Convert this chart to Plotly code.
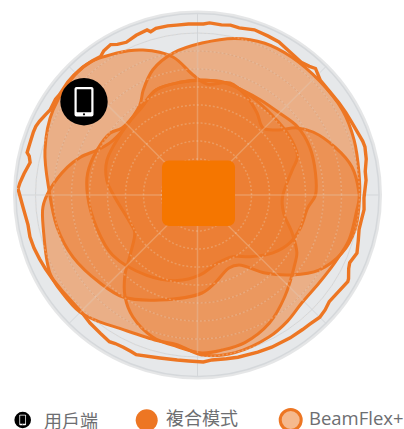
import plotly.graph_objects as go

W, H = 404, 429
CX, CY, R = 197.5, 195, 181.5

# Radiation-pattern values: radius and angle (degrees) of each lobe outline
lobe_p_r = [159.0,167.6,171.7,163.2,154.9,140.2,120.1,111.4,116.6,109.8,101.3,93.7,102.7,120.0,131.6,145.6,157.0,161.5,161.9,161.3,155.7,142.8,123.8,103.2,81.4,79.5,89.7,98.1,111.5,126.3,131.3,139.1,144.1,148.6]
lobe_p_t = [163.6,149.5,131.8,119.5,110.6,100.1,92.1,85.1,73.8,63.2,54.0,45.6,39.3,34.0,28.6,19.2,10.3,0.7,355.8,347.5,338.1,328.3,319.8,310.9,300.7,293.3,281.2,272.6,250.3,233.9,222.1,206.5,192.8,178.1]
lobe_q_r = [133,148,155,158,167,167,166,161,155,151,151,160,162,159,155,150,150,153,158,160,162,163,166,168,167,167,166,161,152,144,133,118,107,99,102,110,123]
lobe_q_t = [167.9,178.1,184.4,192.8,207.9,215.9,224.9,231.4,238.8,254.4,262.2,271.6,283.4,296.7,305.4,314.1,324.1,333.7,343.5,354.6,359.3,7.8,19.4,30.5,43.4,55.6,66.1,76.6,88.3,99.8,109.6,117.4,122.6,138.9,149.3,155.9,162.1]
lobe_x_r = [112,110,107,101,104,113,114,115,116,114,114,116,121,122,120,118,111,108,104,95,81,71,71,80,88,95,104,106,110]
lobe_x_t = [168.6,155.9,144.7,138.4,123.5,111.6,98.8,85.8,77.3,66.6,56.7,44.8,34.3,23.1,10.6,0.0,353.3,342.2,332.6,322.5,310.3,299.8,286.0,271.8,256.6,237.7,215.4,198.2,180.0]
lobe_c_r = [115,115,112,109,109,107,98,85,88,102,115,119,134,147,155,157,158,153,149,138,125,108,90,73,73,84,92,97,99,104,113,114]
lobe_c_t = [87.8,72.6,60.9,41.5,30.2,20.9,14.8,358.6,348.2,338.1,329.8,325.1,310.6,299.2,287.8,279.0,271.6,262.3,252.6,242.1,234.6,227.8,221.6,210.6,201.8,180.0,170.6,158.9,136.8,122.2,111.6,98.8]
envelope_r = [179.6,177.9,174.8,170.5,172.7,175.6,175.4,175.8,175.6,174.4,171.8,170.2,171.3,170.6,172.0,172.2,171.7,170.5,169.0,172.0,173.7,170.6,168.5,171.1,172.6,169.8,171.8,171.7,171.1,171.2,171.1,172.5,171.8,173.1,172.3,174.7,173.9,173.4,170.3,168.4,170.5,173.0,168.0,167.8,168.8,169.6,170.5,172.1,173.8,174.2,172.5,169.4,169.2,166.5,167.2,165.7,165.2,167.2,169.7,166.6,168.2,172.7,173.5,170.7,169.5,171.7,172.9,171.2,170.7,170.3,169.3,168.3,167.2,166.3,165.6,167.1,166.2,166.3,167.3,171.1,170.0,169.3,169.8,171.1,169.0,167.2,165.1,164.8,165.8,167.6,169.0,170.4,171.9,172.7,172.1,174.9]
envelope_t = [178,176,173,169,167,166,163,159,157,155,152,150,146,144,139,136,132,128,125,123,120,118,115,111,107,106,104,100,97,93,88,86,82,79,76,71,66,62,57,52,49,47,43,38,33,29,25,21,18,16,12,8,5,359,355,351,348,344,340,336,334,331,330,325,321,318,315,311,308,303,296,291,284,280,275,272,267,263,257,249,247,244,241,239,235,230,226,221,216,210,206,202,198,194,190,184]
radial_ticks = [36,54,72,90,108,126,144,162]
angular_ticks = [0,45,90,135,180,225,270,315]
spoke_reach = [161,165,152,160,154,166,158,150]   # how far each spoke runs over the coloured area
legend_labels = ["用戶端", "複合模式", "BeamFlex+"]

ORANGE = "#ed7623"
GRID_ON_FILL = "rgba(238,226,214,0.28)"
fig = go.Figure()
fig.add_trace(go.Scatterpolar(r=envelope_r + envelope_r[:1], theta=envelope_t + envelope_t[:1], mode="lines",
                              line=dict(color=ORANGE, width=3.4), hoverinfo="skip"))
for rr, tt, a in ((lobe_q_r, lobe_q_t, .5), (lobe_p_r, lobe_p_t, .5), (lobe_x_r, lobe_x_t, .4), (lobe_c_r, lobe_c_t, .4)):
    fig.add_trace(go.Scatterpolar(r=rr + rr[:1], theta=tt + tt[:1], mode="lines", fill="toself",
                                  fillcolor=f"rgba(237,118,35,{a})",
                                  line=dict(color=ORANGE, width=3, shape="spline", smoothing=1), hoverinfo="skip"))
# plotly keeps polar gridlines under the traces, so the part over the colour is repeated on top
ring_angles = list(range(0, 361, 3))
for rt in radial_ticks:
    fig.add_trace(go.Scatterpolar(r=[rt] * len(ring_angles), theta=ring_angles, mode="lines",
                                  line=dict(color=GRID_ON_FILL, width=1.5, dash="2px,2px"), hoverinfo="skip"))
for at, reach in zip(angular_ticks, spoke_reach):
    fig.add_trace(go.Scatterpolar(r=[0, reach], theta=[at, at], mode="lines",
                                  line=dict(color=GRID_ON_FILL, width=1.5), hoverinfo="skip"))

def px(x): return x / W
def py(y): return 1 - y / H
def rrect(x0, y0, x1, y1, r):
    k = 0.45 * r
    pts = [("M", x0+r, y0), ("L", x1-r, y0), ("C", x1-k, y0, x1, y0+k, x1, y0+r), ("L", x1, y1-r),
           ("C", x1, y1-k, x1-k, y1, x1-r, y1), ("L", x0+r, y1), ("C", x0+k, y1, x0, y1-k, x0, y1-r),
           ("L", x0, y0+r), ("C", x0, y0+k, x0+k, y0, x0+r, y0)]
    s = ""
    for p in pts:
        s += p[0] + " ".join(f"{px(p[i]):.5f},{py(p[i+1]):.5f}" for i in range(1, len(p), 2)) + " "
    return s + "Z"
def circ(cx, cy, r, fill, line=None, lw=0, layer="above"):
    return dict(type="circle", xref="paper", yref="paper", x0=px(cx-r), x1=px(cx+r), y0=py(cy+r), y1=py(cy-r),
                fillcolor=fill, line=dict(color=line or fill, width=lw), layer=layer)
def path(d, fill):
    return dict(type="path", xref="paper", yref="paper", path=d, fillcolor=fill, line=dict(width=0), layer="above")
def phone(cx, cy, s):
    return [circ(cx, cy, 23.7*s, "#000000"),
            path(rrect(cx-9.5*s, cy-14.7*s, cx+9.5*s, cy+14.7*s, 2*s), "#ffffff"),
            path(rrect(cx-7.3*s, cy-12.5*s, cx+7.3*s, cy+10.5*s, 0.5*s), "#000000"),
            circ(cx, cy+12.6*s, 1.1*s, "#000000")]

shapes = [circ(CX, CY, R+1.5, "rgba(0,0,0,0)", "rgba(150,155,160,0.25)", 3, "below"),
          path(rrect(162, 160.5, 235, 226, 7), "#f57600")] + phone(84, 101.7, 1) + phone(22.7, 420, 8.3/23.7)
shapes += [circ(146.7, 420.3, 11, ORANGE), circ(290.7, 420, 10.5, "#f5b98e", ORANGE, 3)]

def label(t, x, y, font, size=18):
    return dict(text=t, x=px(x), y=py(y), xref="paper", yref="paper", xanchor="left", yanchor="middle", showarrow=False,
                font=dict(family=font, size=size, color="#6d6e71"))
cjk = "Noto Sans CJK TC"
annos = [label(legend_labels[0], 41.5, 420, cjk), label(legend_labels[1], 163.5, 417, cjk),
         label(legend_labels[2], 306.5, 417, "Open Sans", 18.5)]

GRID = "#d3d6d9"
fig.update_layout(width=W, height=H, margin=dict(l=0, r=0, t=0, b=0), paper_bgcolor="white", showlegend=False,
    shapes=shapes, annotations=annos,
    polar=dict(domain=dict(x=[(CX-R)/W, (CX+R)/W], y=[(H-CY-R)/H, (H-CY+R)/H]), bgcolor="#e6e8ea",
        radialaxis=dict(range=[0, R], tickvals=radial_ticks, showticklabels=False, ticks="", showline=False,
                        gridcolor=GRID, gridwidth=1),
        angularaxis=dict(tickvals=angular_ticks, showticklabels=False, ticks="", gridcolor=GRID, gridwidth=1,
                         linecolor="#d5d8db", linewidth=1.5)))
fig.write_html("out.html", config=dict(displayModeBar=False),
               post_script="document.body.style.margin='0';document.body.style.overflow='hidden';")
